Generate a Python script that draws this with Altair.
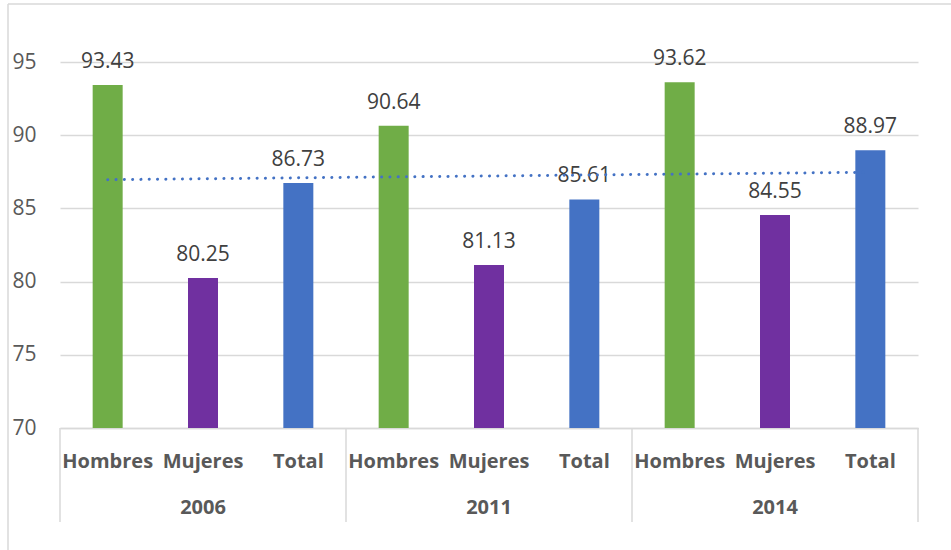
import altair as alt
import pandas as pd

years = ["2006", "2011", "2014"]
categories = ["Hombres", "Mujeres", "Total"]
hombres = [93.43, 90.64, 93.62]
mujeres = [80.25, 81.13, 84.55]
total = [86.73, 85.61, 88.97]
colors = {"Hombres": "#70AD47", "Mujeres": "#7030A0", "Total": "#4472C4"}

rows = []
i = 0
for yi, yr in enumerate(years):
    for cat, vals in zip(categories, [hombres, mujeres, total]):
        i += 1
        rows.append({"key": f"{yr}|{cat}", "year": yr, "cat": cat,
                     "value": vals[yi], "idx": i, "label": f"{vals[yi]:.2f}"})
df = pd.DataFrame(rows)
keys = list(df["key"])

W, H = 858, 366
FONT = "Open Sans"

xscale = alt.Scale(domain=keys, paddingInner=0, paddingOuter=0)
yscale = alt.Scale(domain=[70, 95], nice=False, zero=False)

xaxis = alt.Axis(title=None, labelExpr="split(datum.label, '|')[1]", labelFont=FONT,
                 labelFontWeight="bold", labelFontSize=20, labelColor="#595959",
                 labelBaseline="alphabetic", labelPadding=39, ticks=False, tickSize=0,
                 domain=True, domainColor="#D9D9D9", domainWidth=1.5,
                 labelOverlap=False, labelFlush=False, labelAngle=0, grid=False)
yaxis = alt.Axis(title=None, values=[70, 75, 80, 85, 90, 95], labelFont=FONT,
                 labelFontSize=21, labelColor="#595959", labelPadding=24,
                 ticks=False, domain=False, grid=True, gridColor="#D9D9D9", gridWidth=1.5)

base = alt.Chart(df)

bars = base.mark_bar(width=30).encode(
    x=alt.X("key:N", scale=xscale, axis=xaxis, sort=keys),
    y=alt.Y("value:Q", scale=yscale, axis=yaxis),
    y2=alt.datum(70),
    color=alt.Color("cat:N", scale=alt.Scale(domain=categories,
                                             range=[colors[c] for c in categories]),
                    legend=None),
)

labels = base.mark_text(baseline="alphabetic", dy=-17, font=FONT, fontSize=21,
                        color="#404040").encode(
    x=alt.X("key:N", scale=xscale, sort=keys),
    y=alt.Y("value:Q", scale=yscale),
    text="label:N",
)

ydf = pd.DataFrame({"year": years, "mid": [f"{y}|Mujeres" for y in years],
                    "first": [f"{y}|Hombres" for y in years]})
year_labels = alt.Chart(ydf).mark_text(baseline="alphabetic", font=FONT, fontSize=20,
                                       fontWeight="bold", color="#595959").encode(
    x=alt.X("mid:N", scale=xscale, sort=keys),
    y=alt.value(452),
    text="year:N",
)

sep_left = alt.Chart(ydf).mark_rule(color="#D9D9D9", strokeWidth=1.5).encode(
    x=alt.X("first:N", scale=xscale, sort=keys, bandPosition=0),
    y=alt.value(H),
    y2=alt.value(H + 94),
)
last_df = pd.DataFrame({"k": [keys[-1]]})
sep_right = alt.Chart(last_df).mark_rule(color="#D9D9D9", strokeWidth=1.5).encode(
    x=alt.X("k:N", scale=xscale, sort=keys, bandPosition=1),
    y=alt.value(H),
    y2=alt.value(H + 94),
)

trend = base.transform_regression("idx", "value", method="linear").mark_line(
    color="#4472C4", strokeWidth=3, strokeDash=[0.1, 8.2], strokeCap="round"
).encode(
    x=alt.X("idx:Q", scale=alt.Scale(domain=[0.5, 9.5], nice=False, zero=False), axis=None),
    y=alt.Y("value:Q", scale=yscale),
)

border_left = alt.Chart(last_df).mark_rule(color="#D9D9D9", strokeWidth=1.5).encode(
    x=alt.value(-52), y=alt.value(-58), y2=alt.value(H + 130))
border_top = alt.Chart(last_df).mark_rule(color="#D9D9D9", strokeWidth=1.5).encode(
    x=alt.value(-52), x2=alt.value(W + 40), y=alt.value(-58))

main = alt.layer(bars, labels, year_labels, sep_left, sep_right, border_left, border_top)
chart = alt.layer(main, trend).resolve_scale(x="independent").properties(
    width=W, height=H,
    autosize=alt.AutoSizeParams(type="none"),
    padding={"left": 60, "top": 62, "right": 33, "bottom": 122},
    background="white",
).configure_view(stroke=None)

chart.save("out.html", embed_options={"renderer": "svg", "actions": False})
